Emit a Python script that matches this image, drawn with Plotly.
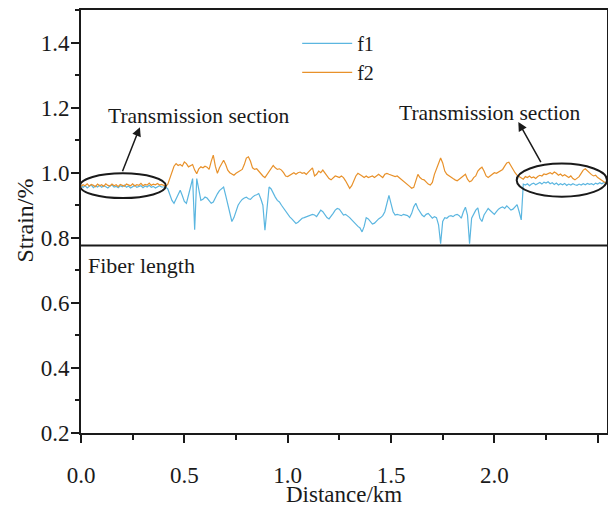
import plotly.graph_objects as go

# sampling grid (km), 0.01 km step
distance_km = [round(i * 0.01, 2) for i in range(255)]

f1 = [
    0.962, 0.955, 0.960, 0.953, 0.958, 0.962, 0.954, 0.959, 0.956, 0.961,
    0.955, 0.960, 0.957, 0.953, 0.959, 0.962, 0.956, 0.958, 0.954, 0.960,
    0.957, 0.962, 0.955, 0.959, 0.953, 0.958, 0.961, 0.955, 0.957, 0.960,
    0.954, 0.959, 0.956, 0.961, 0.955, 0.958, 0.953, 0.957, 0.960, 0.956,
    0.957, 0.956, 0.950, 0.930, 0.915, 0.906, 0.918, 0.935, 0.946, 0.930,
    0.912, 0.906, 0.935, 0.956, 0.982, 0.825, 0.982, 0.950, 0.915, 0.918,
    0.925, 0.922, 0.912, 0.906, 0.910, 0.925, 0.935, 0.945, 0.952, 0.956,
    0.930, 0.900, 0.880, 0.850, 0.862, 0.885, 0.900, 0.910, 0.918, 0.922,
    0.925, 0.920, 0.918, 0.925, 0.930, 0.932, 0.936, 0.920, 0.900, 0.823,
    0.900, 0.956, 0.950, 0.935, 0.925, 0.915, 0.910, 0.900, 0.890, 0.880,
    0.870, 0.864, 0.858, 0.850, 0.844, 0.848, 0.855, 0.860, 0.862, 0.864,
    0.868, 0.870, 0.872, 0.870, 0.865, 0.875, 0.885, 0.880, 0.870, 0.862,
    0.858, 0.865, 0.875, 0.885, 0.890, 0.888, 0.878, 0.870, 0.872, 0.868,
    0.862, 0.855, 0.848, 0.840, 0.835, 0.830, 0.818, 0.835, 0.862, 0.858,
    0.848, 0.842, 0.845, 0.852, 0.858, 0.862, 0.868, 0.880, 0.905, 0.930,
    0.905, 0.880, 0.870, 0.872, 0.870, 0.868, 0.872, 0.870, 0.868, 0.862,
    0.875, 0.895, 0.906, 0.890, 0.880, 0.870, 0.865, 0.872, 0.875, 0.868,
    0.860, 0.865, 0.862, 0.840, 0.782, 0.850, 0.862, 0.860, 0.866, 0.868,
    0.865, 0.870, 0.872, 0.868, 0.860, 0.880, 0.894, 0.870, 0.782, 0.860,
    0.875, 0.885, 0.892, 0.860, 0.850, 0.870, 0.880, 0.890, 0.884, 0.878,
    0.872, 0.880, 0.888, 0.892, 0.895, 0.890, 0.898, 0.892, 0.885, 0.888,
    0.895, 0.902, 0.880, 0.855, 0.965, 0.962, 0.966, 0.960, 0.965, 0.968,
    0.963, 0.967, 0.970, 0.965, 0.971, 0.968, 0.972, 0.966, 0.969, 0.964,
    0.968, 0.962, 0.966, 0.963, 0.967, 0.961, 0.965, 0.962, 0.966, 0.963,
    0.961, 0.965, 0.962, 0.966, 0.963, 0.967, 0.964, 0.966, 0.963, 0.968,
    0.965, 0.969, 0.966, 0.970, 0.967,
]

f2 = [
    0.958, 0.963, 0.960, 0.966, 0.959, 0.964, 0.961, 0.957, 0.965, 0.960,
    0.963, 0.958, 0.966, 0.961, 0.959, 0.965, 0.960, 0.963, 0.957, 0.964,
    0.961, 0.958, 0.965, 0.962, 0.960, 0.966, 0.959, 0.963, 0.961, 0.967,
    0.960, 0.964, 0.962, 0.968, 0.961, 0.965, 0.963, 0.967, 0.962, 0.964,
    0.960, 0.958, 0.965, 0.985, 1.005, 1.020, 1.028, 1.022, 1.025, 1.020,
    1.033, 1.028, 1.018, 1.022, 1.025, 1.008, 0.997, 1.012, 1.018, 1.015,
    1.020, 1.017, 1.010, 1.035, 1.054, 1.020, 0.998, 1.015, 1.028, 1.038,
    1.025, 1.008, 1.000, 0.995, 0.992, 0.998, 1.002, 1.005, 1.010, 1.025,
    1.045, 1.049, 1.035, 1.015, 1.010, 1.012, 1.005, 0.995, 0.990, 0.985,
    0.995, 1.005, 1.015, 1.022, 1.015, 1.010, 1.012, 1.008, 1.000, 0.990,
    0.988, 0.992, 0.998, 1.000, 0.995, 1.000, 1.002, 0.998, 1.000, 0.995,
    1.002, 1.010, 1.015, 0.990, 0.995, 1.005, 1.000, 1.008, 1.000, 0.990,
    0.982, 0.978, 0.985, 0.990, 0.988, 0.985, 0.990, 0.985, 0.975, 0.962,
    0.952, 0.960, 0.975, 0.990, 0.998, 0.995, 0.990, 0.985, 0.990, 0.985,
    0.988, 0.990, 0.985, 0.990, 0.995, 0.990, 0.985, 0.995, 0.998, 0.995,
    0.992, 0.990, 0.988, 0.990, 0.985, 0.980, 0.975, 0.970, 0.965, 0.958,
    0.952, 0.955, 0.975, 0.995, 0.985, 0.980, 0.978, 0.970, 0.965, 0.962,
    0.970, 0.995, 1.010, 1.025, 1.045, 1.030, 1.005, 0.995, 0.990, 0.985,
    0.982, 0.978, 0.975, 0.980, 0.985, 0.990, 0.995, 0.980, 0.972, 0.975,
    0.985, 0.990, 1.005, 1.012, 1.017, 1.005, 0.990, 0.985, 0.990, 0.995,
    1.000, 0.998, 1.002, 1.005, 1.010, 1.020, 1.030, 1.032, 1.020, 1.008,
    1.000, 0.992, 0.988, 0.985, 0.980, 0.988, 0.985, 0.990, 0.984, 0.987,
    0.982, 0.988, 0.992, 0.990, 0.996, 0.994, 0.998, 1.000, 0.996, 1.002,
    0.998, 0.992, 0.996, 0.990, 0.994, 0.988, 0.985, 0.990, 0.982, 0.978,
    0.982, 0.988, 0.998, 1.008, 1.012, 1.006, 0.998, 0.994, 0.990, 0.992,
    0.985, 0.980, 0.976, 0.972, 0.968,
]

x_ticks = [0.0, 0.5, 1.0, 1.5, 2.0, 2.5]
y_ticks = [0.2, 0.4, 0.6, 0.8, 1.0, 1.2, 1.4]
fiber_length_level = 0.776

FONT = "Liberation Serif"
INK = "#1a1a1a"

fig = go.Figure()
fig.add_trace(go.Scatter(x=distance_km, y=f1, mode="lines", name="f1",
                         line=dict(color="#5bb6e0", width=1.2)))
fig.add_trace(go.Scatter(x=distance_km, y=f2, mode="lines", name="f2",
                         line=dict(color="#e8912a", width=1.2)))

axis_common = dict(showline=True, linewidth=2, linecolor=INK, mirror=True,
                   ticks="outside", ticklen=8, tickwidth=1.5, tickcolor=INK,
                   showgrid=False, zeroline=False, automargin=False,
                   tickfont=dict(family=FONT, size=23, color=INK))

fig.update_xaxes(range=[0, 2.545], tickvals=x_ticks, tickformat=".1f",
                 ticklabelstandoff=12,
                 minor=dict(ticks="outside", ticklen=5, tickwidth=1.5,
                            tickcolor=INK, dtick=0.25, tick0=0),
                 **axis_common)
fig.update_yaxes(range=[0.2, 1.5], tickvals=y_ticks, tickformat=".1f",
                 ticklabelstandoff=-3,
                 minor=dict(ticks="outside", ticklen=4, tickwidth=1.5,
                            tickcolor=INK, dtick=0.1, tick0=0.2),
                 **axis_common)

shapes = [
    dict(type="line", xref="paper", x0=0, x1=1, yref="y",
         y0=fiber_length_level, y1=fiber_length_level,
         line=dict(color=INK, width=2)),
    dict(type="circle", xref="x", yref="y", x0=-0.005, x1=0.41,
         y0=0.922, y1=0.998, line=dict(color=INK, width=2)),
    dict(type="circle", xref="x", yref="y", x0=2.108, x1=2.545,
         y0=0.926, y1=1.028, line=dict(color=INK, width=2)),
]

annotations = [
    dict(text="Transmission section", x=0.573, y=1.174, xref="x", yref="y",
         showarrow=False, font=dict(family=FONT, size=21.5, color=INK)),
    dict(text="Transmission section", x=1.979, y=1.183, xref="x", yref="y",
         showarrow=False, font=dict(family=FONT, size=21.5, color=INK)),
    dict(text="", x=0.285, y=1.14, ax=0.198, ay=1.0, xref="x", yref="y",
         axref="x", ayref="y", showarrow=True, arrowhead=2, arrowsize=1.2,
         arrowwidth=1.5, arrowcolor=INK),
    dict(text="", x=2.116, y=1.156, ax=2.229, ay=1.028, xref="x", yref="y",
         axref="x", ayref="y", showarrow=True, arrowhead=2, arrowsize=1.2,
         arrowwidth=1.5, arrowcolor=INK),
    dict(text="Fiber length", x=0.024, y=0.715, xref="x", yref="y",
         xanchor="left", showarrow=False,
         font=dict(family=FONT, size=22, color=INK)),
    dict(text="Strain/%", x=-0.106, y=0.503, xref="paper", yref="paper",
         xanchor="center", yanchor="middle",
         textangle=-90, showarrow=False,
         font=dict(family=FONT, size=24, color=INK)),
    dict(text="Distance/km", x=0.5, y=-0.145, xref="paper", yref="paper",
         xanchor="center", yanchor="middle",
         showarrow=False, font=dict(family=FONT, size=23, color=INK)),
]

fig.update_layout(
    width=608, height=506,
    margin=dict(l=81, r=1, t=10, b=73, autoexpand=False),
    paper_bgcolor="white", plot_bgcolor="white",
    font=dict(family=FONT, color=INK),
    shapes=shapes, annotations=annotations,
    showlegend=True,
    legend=dict(x=0.411, y=0.967, xanchor="left", yanchor="top",
                bgcolor="rgba(0,0,0,0)", font=dict(family=FONT, size=20, color=INK),
                itemwidth=50, tracegroupgap=0),
)

fig.write_html("out.html",
               config={"displayModeBar": False},
               post_script="document.body.style.margin='0';"
                           "document.body.style.padding='0';")
